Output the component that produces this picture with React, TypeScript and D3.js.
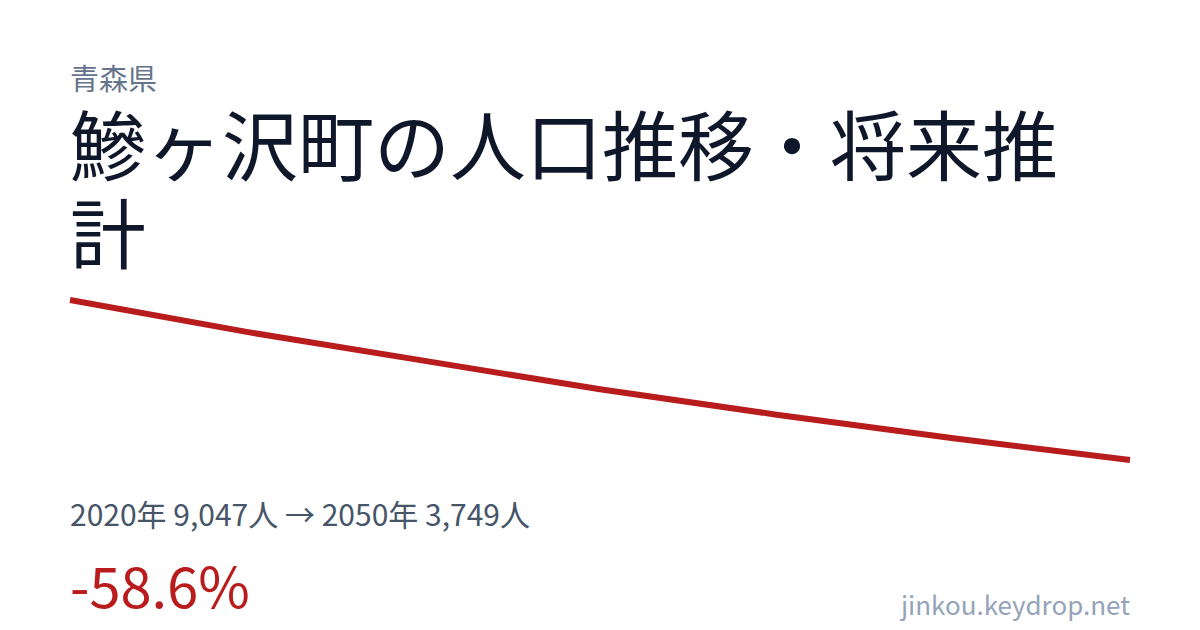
import React from "react";
import * as d3 from "d3";

const years = [2020, 2025, 2030, 2035, 2040, 2045, 2050];
const population = [9047, 7990, 7040, 6090, 5250, 4470, 3749];
const prefecture = "青森県";
const titleLines = ["鰺ヶ沢町の人口推移・将来推", "計"];
const statsText = "2020年 9,047人 → 2050年 3,749人";
const changeText = "-58.6%";
const footerText = "jinkou.keydrop.net";

const W = 1200;
const H = 630;
const FONT = '"Noto Sans CJK JP", "Noto Sans", sans-serif';

export default function App() {
  const x = d3.scaleLinear().domain([years[0], years[years.length - 1]]).range([70, 1130]);
  const y = d3
    .scaleLinear()
    .domain([d3.min(population) as number, d3.max(population) as number])
    .range([460, 300]);
  const line = d3
    .line<number>()
    .x((_, i) => x(years[i]))
    .y((d) => y(d));
  const path = line(population) || "";

  return (
    <svg
      width={W}
      height={H}
      viewBox={`0 0 ${W} ${H}`}
      style={{ position: "absolute", left: 0, top: 0, background: "#ffffff" }}
    >
      <rect x={0} y={0} width={W} height={H} fill="#ffffff" />
      <text x={70} y={90} fontFamily={FONT} fontSize={29} fill="#64748b">
        {prefecture}
      </text>
      {titleLines.map((t, i) => (
        <text key={i} x={70} y={175 + i * 88} fontFamily={FONT} fontSize={76} fill="#0f172a">
          {t}
        </text>
      ))}
      <path d={path} fill="none" stroke="#b91c1c" strokeWidth={6} strokeLinejoin="round" />
      <text x={70} y={526} fontFamily={FONT} fontSize={30} fill="#475569">
        {statsText}
      </text>
      <text x={70} y={608} fontFamily={FONT} fontSize={56} fill="#b91c1c">
        {changeText}
      </text>
      <text x={1130} y={615} fontFamily={FONT} fontSize={26} fill="#94a3b8" textAnchor="end">
        {footerText}
      </text>
    </svg>
  );
}
